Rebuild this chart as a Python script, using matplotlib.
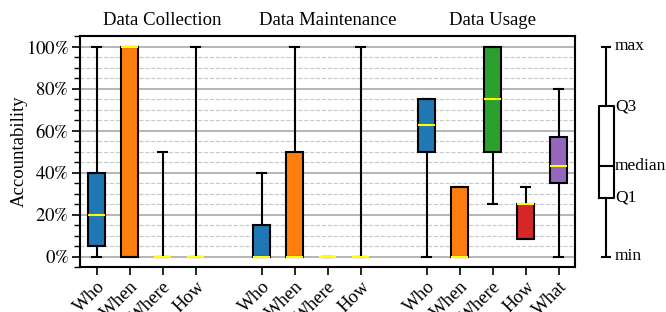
import matplotlib
matplotlib.use('Agg')
import matplotlib.pyplot as plt
from matplotlib.ticker import MultipleLocator, FuncFormatter

plt.rcParams['font.family'] = 'serif'
plt.rcParams['font.serif'] = ['Liberation Serif', 'DejaVu Serif']
plt.rcParams['mathtext.fontset'] = 'stix'
plt.rcParams['font.size'] = 13.5

# five-number summaries (percent)
groups = ['Data Collection', 'Data Maintenance', 'Data Usage']
labels = [['Who', 'When', 'Where', 'How'],
          ['Who', 'When', 'Where', 'How'],
          ['Who', 'When', 'Where', 'How', 'What']]
whislo = [[0, 0, 0, 0], [0, 0, 0, 0], [0, 0, 25, 8.3, 0]]
q1 = [[5, 0, 0, 0], [0, 0, 0, 0], [50, 0, 50, 8.3, 35]]
med = [[20, 100, 0, 0], [0, 0, 0, 0], [62.5, 0, 75, 25, 43.3]]
q3 = [[40, 100, 0, 0], [15, 50, 0, 0], [75, 33.3, 100, 25, 56.7]]
whishi = [[100, 100, 50, 100], [40, 100, 0, 100], [75, 33.3, 100, 33.3, 80]]
colors = ['tab:blue', 'tab:orange', 'tab:green', 'tab:red', 'tab:purple']

fig = plt.figure(figsize=(6.66, 3.12), dpi=100)
ax = fig.add_axes([80/666, 1-267/312, 495/666, 231/312])

stats, positions, ticklabels, facecols = [], [], [], []
title_pos = []
start = 0
for g in range(len(groups)):
    for i, lab in enumerate(labels[g]):
        stats.append(dict(med=med[g][i], q1=q1[g][i], q3=q3[g][i],
                          whislo=whislo[g][i], whishi=whishi[g][i], fliers=[]))
        positions.append(start + i)
        ticklabels.append(lab)
        facecols.append(colors[i])
    title_pos.append(start + 2)
    start += len(labels[g]) + 1

bp = ax.bxp(stats, positions=positions, widths=0.5, patch_artist=True,
            showfliers=False,
            boxprops=dict(edgecolor='black', linewidth=1.5),
            whiskerprops=dict(color='black', linewidth=1.5),
            capprops=dict(color='black', linewidth=1.5),
            medianprops=dict(color='yellow', linewidth=1.5))
for patch, c in zip(bp['boxes'], facecols):
    patch.set_facecolor(c)
    patch.set_zorder(3)
for k in ['whiskers', 'caps', 'medians']:
    for ln in bp[k]:
        ln.set_zorder(4)

ax.set_xlim(-0.5, 14.5)
ax.set_ylim(-5, 105)
ax.set_xticks(positions)
ax.set_xticklabels(ticklabels, rotation=45, ha='right', rotation_mode='anchor')
ax.yaxis.set_major_locator(MultipleLocator(20))
ax.yaxis.set_minor_locator(MultipleLocator(5))
ax.yaxis.set_major_formatter(FuncFormatter(lambda v, p: f'${v:.0f}\\%$'))
ax.set_ylabel('Accountability')
ax.yaxis.set_label_coords(-0.105, 0.5)
ax.set_axisbelow(True)
ax.grid(axis='y', which='major', color='#b0b0b0', linewidth=1.3)
ax.grid(axis='y', which='minor', color='#c8c8c8', linestyle='--', linewidth=0.8)
ax.tick_params(which='major', length=6, width=1.2, pad=2)
ax.tick_params(which='minor', length=4, width=1)
for s in ax.spines.values():
    s.set_linewidth(1.5)

for g, x in enumerate(title_pos):
    ax.text(x, 1.03, groups[g], transform=ax.get_xaxis_transform(),
            ha='center', va='bottom')

# legend box
lax = fig.add_axes([585/666, 1-267/312, 45/666, 231/312])
lax.bxp([dict(med=43, q1=28, q3=71.5, whislo=0, whishi=100, fliers=[])],
        positions=[0], widths=0.5, showfliers=False,
        boxprops=dict(color='black', linewidth=1.5),
        whiskerprops=dict(color='black', linewidth=1.5),
        capprops=dict(color='black', linewidth=1.5),
        medianprops=dict(color='black', linewidth=1.5))
lax.set_xlim(-0.7, 0.8)
lax.set_ylim(-5, 105)
for y, t in [(100, 'max'), (71.5, 'Q3'), (43, 'median'), (28, 'Q1'), (0, 'min')]:
    lax.text(0.3, y, t, ha='left', va='center', clip_on=False, fontsize=12.5)
lax.axis('off')

fig.savefig('out.png', dpi=100)
